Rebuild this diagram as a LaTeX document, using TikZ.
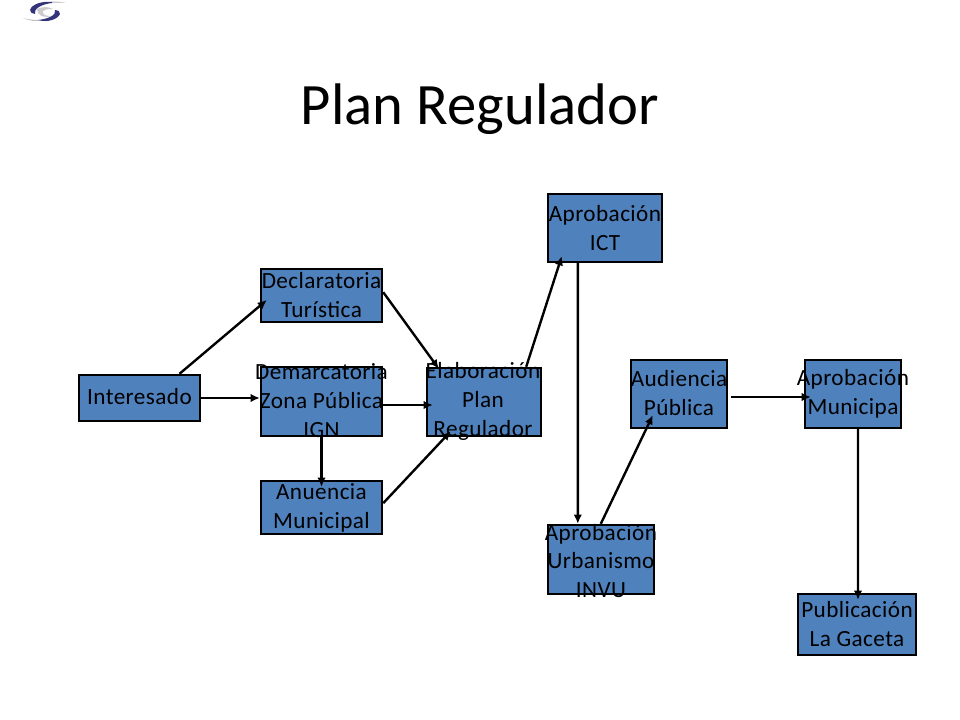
\documentclass[tikz,border=0pt]{standalone}
\usepackage{fontspec}
\setmainfont{Carlito}
\usetikzlibrary{arrows.meta}
\tikzset{
	planbox/.style={draw=black, line width=1.7pt, fill={rgb,255:red,79;green,129;blue,189}, inner sep=0pt},
	plantext/.style={font=\fontsize{16.5}{20.6}\selectfont\addfontfeature{LetterSpace=1.8}, align=center, inner sep=0pt},
	planarrow/.style={line width=1.7pt, -{Latex[length=6.5pt,width=6pt]}},
}
\begin{document}
\begin{tikzpicture}[x=0.025cm, y=-0.025cm]
	\useasboundingbox (0,0) rectangle (960,720);
	% logo
	\fill[gray!40] (37,9) .. controls (42,6) and (50,7) .. (53,9) .. controls (46,9) and (42,10) .. (43,13) .. controls (44,16) and (50,16) .. (51,16) .. controls (44,19) and (37,15) .. (37,9);
	\fill[gray!40] (66,3) .. controls (58,1) and (50,1) .. (44,3) .. controls (50,3) and (58,3) .. (66,3);
	\fill[gray!50] (23,18) .. controls (30,20) and (36,20) .. (42,20) .. controls (36,22) and (30,21) .. (23,18);
	\fill[blue!35!black!80] (52,2) .. controls (42,1) and (32,4) .. (30,10) .. controls (30,12) and (32,14) .. (35,14) .. controls (33,9) and (42,4) .. (52,3);
	\fill[blue!35!black!80] (38,20) .. controls (48,23) and (58,19) .. (60,14) .. controls (60,11) and (58,10) .. (55,10) .. controls (57,15) and (48,19) .. (38,20);
	% titulo
	\node[font=\fontsize{41.7}{50}\selectfont, inner sep=0pt] (titulo) at (480,109) {Plan Regulador};
	% cajas
	\node[planbox, minimum width=3.025cm, minimum height=1.15cm] (interesado) at (139.5,398) {};
	\node[planbox, minimum width=3.025cm, minimum height=1.325cm] (declaratoria) at (321.5,295.5) {};
	\node[planbox, minimum width=3.025cm, minimum height=1.725cm] (demarcatoria) at (321.5,401.5) {};
	\node[planbox, minimum width=3.025cm, minimum height=1.325cm] (anuencia) at (321.5,507.5) {};
	\node[planbox, minimum width=2.85cm, minimum height=1.7cm] (elaboracion) at (484,402) {};
	\node[planbox, minimum width=2.85cm, minimum height=1.7cm] (ict) at (605,228) {};
	\node[planbox, minimum width=2.65cm, minimum height=1.725cm] (urbanismo) at (601,559.5) {};
	\node[planbox, minimum width=2.4cm, minimum height=1.7cm] (audiencia) at (679,394) {};
	\node[planbox, minimum width=2.4cm, minimum height=1.7cm] (municipal) at (853,394) {};
	\node[planbox, minimum width=2.95cm, minimum height=1.525cm] (gaceta) at (857,624.5) {};
	% textos
	\node[plantext] (interesadotxt) at (139.5,397) {Interesado};
	\node[plantext] (declaratoriatxt) at (321.5,295.5) {Declaratoria\\Turística};
	\node[plantext] (demarcatoriatxt) at (321.5,401) {Demarcatoria\\Zona Pública\\IGN};
	\node[plantext] (anuenciatxt) at (321.5,507.5) {Anuencia\\Municipal};
	\node[plantext] (elaboraciontxt) at (483,401) {Elaboración\\Plan\\Regulador};
	\node[plantext] (icttxt) at (605,228.5) {Aprobación\\ICT};
	\node[plantext] (urbanismotxt) at (601,561) {Aprobación\\Urbanismo\\INVU};
	\node[plantext] (audienciatxt) at (679,393.5) {Audiencia\\Pública};
	\node[plantext] (municipaltxt) at (853,393.5) {Aprobación\\Municipa};
	\node[plantext] (gacetatxt) at (857,624.5) {Publicación\\La Gaceta};
	% flechas
	\draw[planarrow] ([xshift=1cm]interesado.north) -- ([xshift=0.175cm,yshift=-0.1125cm]declaratoria.west);
	\draw[planarrow] (interesado.east) -- (demarcatoria.west |- interesado.east);
	\draw[planarrow] (demarcatoria.south) -- ([yshift=-0.175cm]anuencia.north);
	\draw[planarrow] ([yshift=-0.0875cm]demarcatoria.east) -- ([xshift=0.175cm,yshift=-0.075cm]elaboracion.west);
	\draw[planarrow] ([yshift=0.775cm]declaratoria.south east) -- ([xshift=0.325cm,yshift=-0.05cm]elaboracion.north west);
	\draw[planarrow] ([yshift=0.8cm]anuencia.south east) -- ([xshift=0.625cm,yshift=0.15cm]elaboracion.south west);
	\draw[planarrow] ([xshift=-0.4cm]elaboracion.north east) -- ([xshift=0.375cm,yshift=0.175cm]ict.south west);
	\draw[planarrow] ([xshift=0.775cm]ict.south west) -- ([xshift=0.775cm]urbanismo.north west);
	\draw[planarrow] ([xshift=1.35cm]urbanismo.north west) -- ([xshift=0.575cm,yshift=0.35cm]audiencia.south west);
	\draw[planarrow] ([xshift=0.075cm,yshift=-0.075cm]audiencia.east) -- ([xshift=0.175cm,yshift=-0.075cm]municipal.west);
	\draw[planarrow] ([xshift=0.125cm]municipal.south) -- ([xshift=0.025cm,yshift=-0.175cm]gaceta.north);
\end{tikzpicture}
\end{document}
